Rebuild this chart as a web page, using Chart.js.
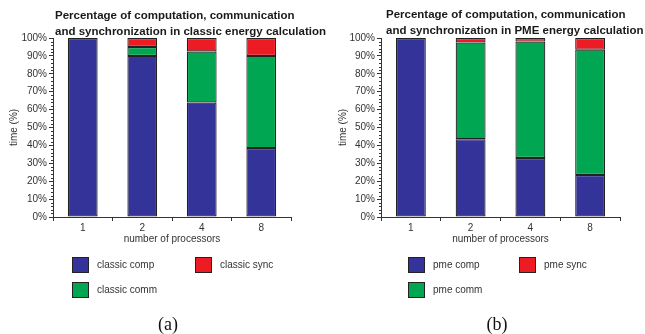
<!DOCTYPE html>
<html>
<head>
<meta charset="utf-8">
<script src="https://cdn.jsdelivr.net/npm/chart.js@4/dist/chart.umd.min.js"></script>
<style>
  html, body { margin: 0; padding: 0; background: #fff; }
  body { width: 645px; height: 334px; position: relative; overflow: hidden;
         font-family: "Liberation Sans", Arial, sans-serif; }
  .panel { position: absolute; top: 0; height: 250px; }
  .legend { position: absolute; left: 0; top: 0; width: 645px; height: 334px; font-size: 10px; color: #333; }
  .swatch { position: absolute; width: 15px; height: 14px; border: 1px solid #222; }
  .label { position: absolute; line-height: 12px; white-space: nowrap; }
  .caption { position: absolute; top: 314px; font-family: "Liberation Serif", "Times New Roman", serif;
             font-size: 18px; color: #111; transform: translateX(-50%); }
</style>
</head>
<body>
<div class="panel" style="left:0;width:334px"><canvas id="classic" width="334" height="250"></canvas></div>
<div class="panel" style="left:322px;width:323px"><canvas id="pme" width="323" height="250"></canvas></div>
<div id="legendA" class="legend"></div>
<div id="legendB" class="legend"></div>
<div class="caption" style="left:168px">(a)</div>
<div class="caption" style="left:497px">(b)</div>
<script>
// Processor counts on the x axis
const processors = ['1', '2', '4', '8'];

// Share of time (%) in the classic energy calculation
const classicComp = [100, 90, 64, 38.5];
const classicComm = [0, 5, 28.5, 51.5];
const classicSync = [0, 5, 7.5, 10];

// Share of time (%) in the PME energy calculation
const pmeComp = [100, 43.5, 33, 23.5];
const pmeComm = [0, 54, 65, 70];
const pmeSync = [0, 2.5, 2, 6.5];

const yTicks = [0, 10, 20, 30, 40, 50, 60, 70, 80, 90, 100];

const BLUE = '#333399';
const GREEN = '#00a651';
const RED = '#ed1c24';
const FONT = '"Liberation Sans", Arial, sans-serif';

// Small tick marks every 2% along the y axis, plus a two-line bold title
const decorations = {
  id: 'decorations',
  afterDraw(chart, args, opts) {
    const ctx = chart.ctx;
    const y = chart.scales.y;
    const left = chart.chartArea.left;
    ctx.save();
    ctx.strokeStyle = '#333';
    ctx.lineWidth = 1;
    for (let v = 0; v <= 100; v += 2) {
      if (v % 10 === 0) continue;
      const py = Math.round(y.getPixelForValue(v)) + 0.5;
      ctx.beginPath();
      ctx.moveTo(left - 2, py);
      ctx.lineTo(left, py);
      ctx.stroke();
    }
    ctx.fillStyle = '#1a1a1a';
    ctx.font = 'bold 11.5px ' + FONT;
    ctx.textAlign = 'left';
    ctx.textBaseline = 'middle';
    opts.lines.forEach((line, i) => {
      ctx.fillText(line, left + opts.dx, opts.y0 + i * 16);
    });
    ctx.restore();
  }
};

function makeChart(id, comp, comm, sync, names, titleLines, axisWidth, padRight, dx, y0, yTitlePad) {
  const ds = (label, data, color) => ({
    label, data, backgroundColor: color,
    borderColor: '#222',
    borderWidth: c => (c.raw > 0 ? 1.2 : 0),
    borderSkipped: false,
    categoryPercentage: 1.0, barPercentage: 0.5
  });
  return new Chart(document.getElementById(id), {
    type: 'bar',
    data: {
      labels: processors,
      datasets: [
        ds(names[0], comp, BLUE),
        ds(names[1], comm, GREEN),
        ds(names[2], sync, RED)
      ]
    },
    options: {
      responsive: false,
      animation: false,
      events: [],
      layout: { padding: { top: 38, right: padRight, left: 0, bottom: 0 } },
      plugins: {
        legend: { display: false },
        tooltip: { enabled: false },
        decorations: { lines: titleLines, dx, y0 }
      },
      scales: {
        x: {
          stacked: true,
          grid: { display: true, drawOnChartArea: false, offset: true, tickLength: 4, color: '#333' },
          border: { display: true, color: '#333', width: 1 },
          ticks: { color: '#333', font: { family: FONT, size: 10 }, padding: 1 },
          title: { display: true, text: 'number of processors', color: '#333',
                   font: { family: FONT, size: 10, lineHeight: 1 }, padding: { top: 0, bottom: 6 } },
          afterFit: s => { s.height = 33; }
        },
        y: {
          stacked: true,
          min: 0, max: 100,
          afterBuildTicks: s => { s.ticks = yTicks.map(v => ({ value: v })); },
          grid: { display: true, drawOnChartArea: false, tickLength: 4, color: '#333' },
          border: { display: true, color: '#333', width: 1 },
          ticks: { color: '#333', font: { family: FONT, size: 10 }, padding: 2,
                   callback: v => v + '%' },
          title: { display: true, text: 'time (%)', color: '#333',
                   font: { family: FONT, size: 10 }, padding: { top: yTitlePad, bottom: 0 } },
          afterFit: s => { s.width = axisWidth; }
        }
      }
    },
    plugins: [decorations]
  });
}

makeChart('classic', classicComp, classicComm, classicSync,
  ['classic comp', 'classic comm', 'classic sync'],
  ['Percentage of computation, communication', 'and synchronization in classic energy calculation'],
  53, 43, 2, 16, 8);

makeChart('pme', pmeComp, pmeComm, pmeSync,
  ['pme comp', 'pme comm', 'pme sync'],
  ['Percentage of computation, communication', 'and synchronization in PME energy calculation'],
  59, 25, 5, 15, 15);

// Legends: two columns, comp and sync on the first row, comm below
function buildLegend(elId, names, col1, col2) {
  const el = document.getElementById(elId);
  const colors = [BLUE, GREEN, RED];
  const pos = [[col1, 257], [col1, 282], [col2, 257]];
  names.forEach((n, i) => {
    const sw = document.createElement('div');
    sw.className = 'swatch';
    sw.style.left = pos[i][0] + 'px';
    sw.style.top = pos[i][1] + 'px';
    sw.style.background = colors[i];
    el.appendChild(sw);
    const lb = document.createElement('div');
    lb.className = 'label';
    lb.textContent = n;
    lb.style.left = (pos[i][0] + 25) + 'px';
    lb.style.top = (pos[i][1] + 2) + 'px';
    el.appendChild(lb);
  });
}
buildLegend('legendA', ['classic comp', 'classic comm', 'classic sync'], 72, 195);
buildLegend('legendB', ['pme comp', 'pme comm', 'pme sync'], 408, 519);
</script>
</body>
</html>
